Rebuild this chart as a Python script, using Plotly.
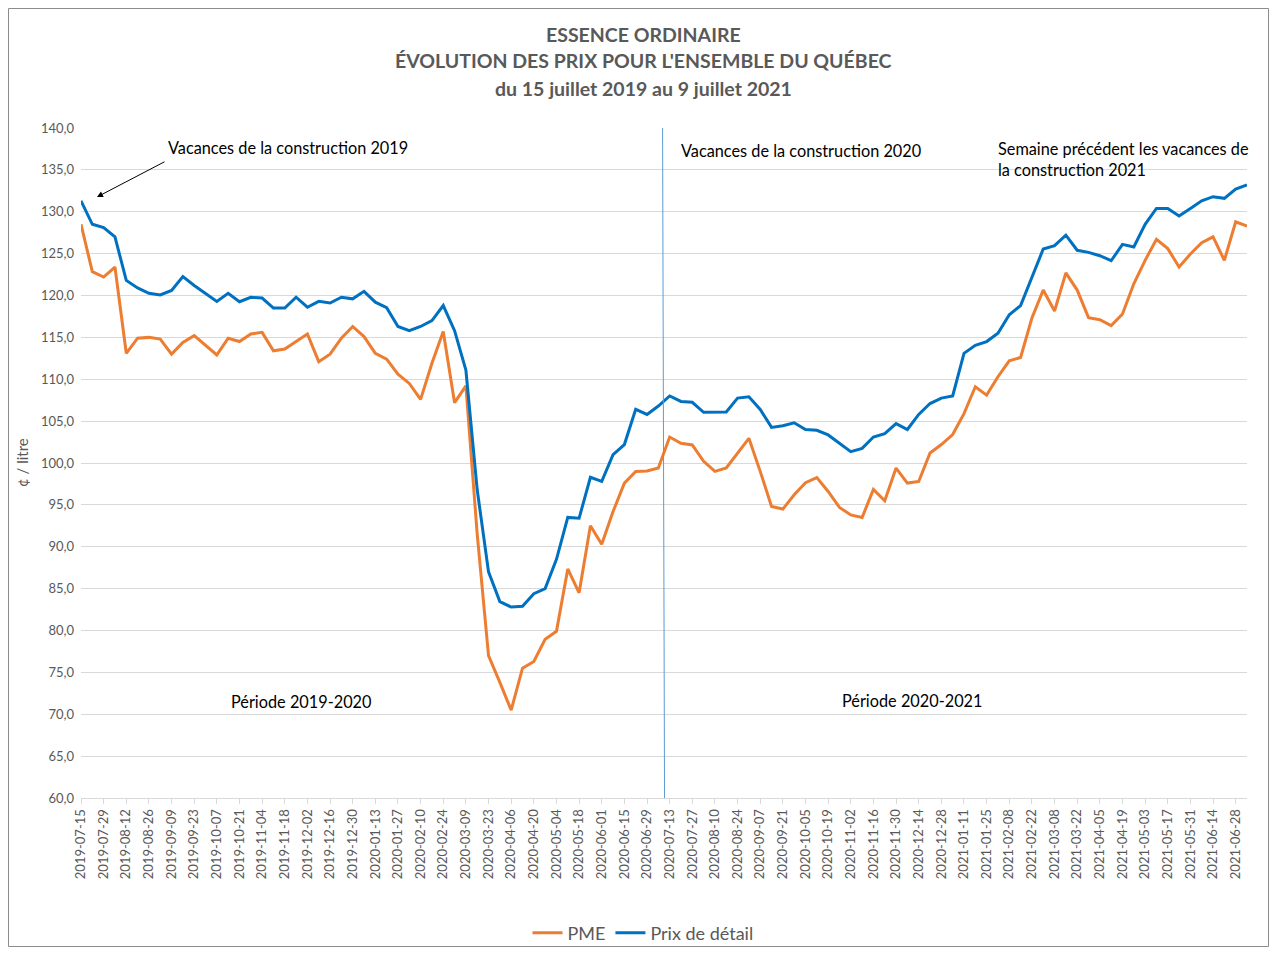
import plotly.graph_objects as go
import pandas as pd

# ---- Data ----
start_date = "2019-07-15"
n_weeks = 104
dates = pd.date_range(start_date, periods=n_weeks, freq="7D")

pme = [128.5, 122.85, 122.2, 123.4, 113.1, 114.9, 115.0, 114.8, 113.0, 114.4,
       115.2, 114.0, 112.9, 114.9, 114.5, 115.4, 115.6, 113.4, 113.6, 114.5,
       115.4, 112.1, 113.0, 114.9, 116.3, 115.1, 113.1, 112.4, 110.6, 109.5,
       107.6, 111.9, 115.7, 107.2, 109.2, 91.5, 77.0, 73.8, 70.5, 75.5,
       76.3, 78.95, 79.9, 87.35, 84.5, 92.5, 90.3, 94.2, 97.6, 99.0,
       99.05, 99.4, 103.1, 102.35, 102.15, 100.2, 99.0, 99.4, 101.2, 102.95,
       99.0, 94.8, 94.5, 96.2, 97.65, 98.25, 96.6, 94.7, 93.8, 93.5,
       96.85, 95.5, 99.4, 97.6, 97.8, 101.2, 102.2, 103.4, 105.9, 109.1,
       108.1, 110.3, 112.2, 112.6, 117.3, 120.65, 118.15, 122.7, 120.65, 117.35,
       117.1, 116.4, 117.8, 121.4, 124.2, 126.7, 125.6, 123.4, 124.95, 126.3,
       127.0, 124.2, 128.8, 128.3]

detail = [131.3, 128.5, 128.1, 127.0, 121.8, 120.9, 120.26, 120.06, 120.6, 122.25,
          121.2, 120.26, 119.3, 120.26, 119.26, 119.78, 119.7, 118.5, 118.5, 119.8,
          118.6, 119.3, 119.1, 119.8, 119.6, 120.5, 119.2, 118.55, 116.3, 115.8,
          116.3, 117.0, 118.8, 115.8, 111.1, 96.8, 87.0, 83.45, 82.8, 82.9,
          84.4, 85.0, 88.5, 93.5, 93.4, 98.3, 97.8, 101.0, 102.2, 106.4,
          105.8, 106.8, 108.0, 107.35, 107.25, 106.05, 106.1, 106.1, 107.75, 107.9,
          106.4, 104.25, 104.45, 104.8, 104.0, 103.9, 103.35, 102.4, 101.35, 101.75,
          103.1, 103.5, 104.7, 104.0, 105.8, 107.1, 107.75, 108.0, 113.1, 114.05,
          114.5, 115.5, 117.7, 118.8, 122.25, 125.55, 125.95, 127.2, 125.4, 125.15,
          124.75, 124.15, 126.1, 125.8, 128.5, 130.4, 130.4, 129.5, 130.4, 131.3,
          131.8, 131.6, 132.7, 133.2]

tick_dates = pd.date_range(start_date, "2021-06-28", freq="14D")
y_ticks = [60, 65, 70, 75, 80, 85, 90, 95, 100, 105, 110, 115, 120, 125, 130, 135, 140]

title_lines = ["ESSENCE ORDINAIRE",
               "ÉVOLUTION DES PRIX POUR L'ENSEMBLE DU QUÉBEC",
               "du 15 juillet 2019 au 9 juillet 2021"]

# ---- Figure ----
OFF = 8  # page body margin
W, H = 1277 - 2 * OFF, 955 - 2 * OFF
# page-pixel plot edges
L, R, T, B = 81, 1247, 128, 798
FONT = "Lato"
GRAY = "#595959"

def px(x):
    return (x - L) / (R - L)

def py(y):
    return (B - y) / (B - T)

fig = go.Figure()
fig.add_trace(go.Scatter(x=dates, y=pme, mode="lines", name="PME",
                         line=dict(color="#ED7D31", width=3)))
fig.add_trace(go.Scatter(x=dates, y=detail, mode="lines", name="Prix de détail",
                         line=dict(color="#0070C0", width=3)))

annotations = []
for txt, yy in zip(title_lines, [34, 61, 89]):
    annotations.append(dict(text="<b>" + txt + "</b>", xref="paper", yref="paper",
                            x=px(643), y=py(yy), xanchor="center", yanchor="middle",
                            showarrow=False, font=dict(family=FONT, size=19.5, color=GRAY)))

txt_font = dict(family=FONT, size=16.3, color="#000000")
annotations += [
    dict(text="Vacances de la construction 2019", xref="paper", yref="paper",
         x=px(166), y=py(147), xanchor="left", yanchor="middle", showarrow=False, font=txt_font),
    dict(text="", xref="paper", yref="paper", x=px(97), y=py(197), showarrow=True,
         ax=69, ay=-36, arrowhead=2, arrowsize=1.2, arrowwidth=1, arrowcolor="#000000"),
    dict(text="Vacances de la construction 2020", xref="paper", yref="paper",
         x=px(679), y=py(150), xanchor="left", yanchor="middle", showarrow=False, font=txt_font),
    dict(text="Semaine précédent les vacances de<br>la construction 2021", xref="paper", yref="paper",
         x=px(996), y=py(159), xanchor="left", yanchor="middle", align="left",
         showarrow=False, font=txt_font),
    dict(text="Période 2019-2020", xref="paper", yref="paper",
         x=px(229), y=py(701), xanchor="left", yanchor="middle", showarrow=False, font=txt_font),
    dict(text="Période 2020-2021", xref="paper", yref="paper",
         x=px(840), y=py(700), xanchor="left", yanchor="middle", showarrow=False, font=txt_font),
    dict(text="¢ / litre", xref="paper", yref="paper", x=px(22), y=py(463),
         xanchor="center", yanchor="middle", textangle=-90, showarrow=False,
         font=dict(family=FONT, size=15, color=GRAY)),
]

shapes = [
    dict(type="line", xref="x", yref="paper", x0="2020-07-08 15:00", x1="2020-07-09 20:00",
         y0=1, y1=0, line=dict(color="#5B9BD5", width=1)),
    dict(type="rect", xref="paper", yref="paper",
         x0=px(OFF + 0.5), x1=px(OFF + W - 0.5), y0=py(OFF + 0.5), y1=py(OFF + H - 0.5),
         line=dict(color="#8C8C8C", width=1), fillcolor="rgba(0,0,0,0)", layer="below"),
]

fig.update_layout(
    width=W, height=H,
    margin=dict(l=L - OFF, r=W - (R - OFF), t=T - OFF, b=H - (B - OFF), autoexpand=False),
    paper_bgcolor="white", plot_bgcolor="white",
    separators=", ",
    showlegend=True,
    legend=dict(orientation="h", x=px(643), y=py(933), xanchor="center", yanchor="middle",
                bgcolor="rgba(0,0,0,0)",
                font=dict(family=FONT, size=18, color=GRAY), itemwidth=30),
    annotations=annotations, shapes=shapes,
    font=dict(family=FONT),
)

fig.update_xaxes(
    type="date", range=[dates[0], dates[-1]],
    tickvals=tick_dates, ticktext=[d.strftime("%Y-%m-%d") for d in tick_dates],
    tickangle=-90, tickfont=dict(family=FONT, size=13, color=GRAY),
    ticks="outside", ticklen=5, tickcolor="#D9D9D9",
    showline=True, linecolor="#D9D9D9", linewidth=1,
    showgrid=False, zeroline=False, automargin=False,
)
fig.update_yaxes(
    range=[60, 140], tickvals=y_ticks, tickformat=".1f",
    tickfont=dict(family=FONT, size=13, color=GRAY),
    showgrid=True, gridcolor="#D9D9D9", gridwidth=1,
    showline=False, zeroline=False, ticks="", ticklabelstandoff=6, automargin=False,
)

fig.write_html("out.html")
